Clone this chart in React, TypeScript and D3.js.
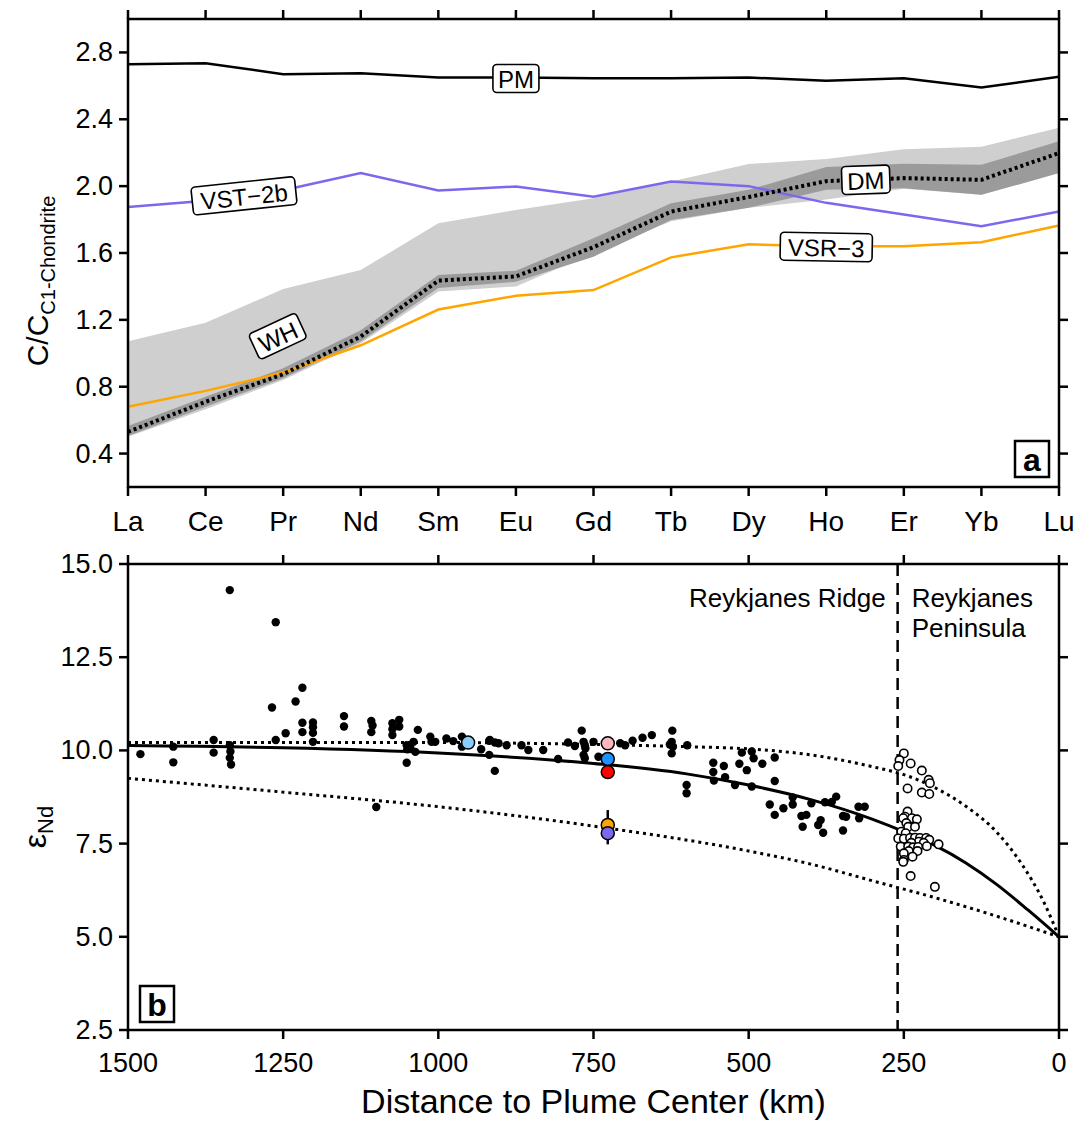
import React from "react";
import * as d3 from "d3";

// ---- panel a: REE patterns ----
const elements = ["La", "Ce", "Pr", "Nd", "Sm", "Eu", "Gd", "Tb", "Dy", "Ho", "Er", "Yb", "Lu"];
const pm = [2.73, 2.735, 2.67, 2.675, 2.65, 2.65, 2.645, 2.645, 2.65, 2.63, 2.645, 2.59, 2.655];
const vst2b = [1.875, 1.912, 1.976, 2.078, 1.974, 1.998, 1.936, 2.028, 2.0, 1.9, 1.83, 1.76, 1.848];
const vsr3 = [0.68, 0.775, 0.885, 1.048, 1.262, 1.344, 1.378, 1.574, 1.652, 1.64, 1.64, 1.664, 1.765];
const dm = [0.53, 0.71, 0.875, 1.1, 1.435, 1.46, 1.635, 1.848, 1.935, 2.03, 2.048, 2.038, 2.198];
const dmLo = [0.505, 0.68, 0.85, 1.07, 1.39, 1.428, 1.578, 1.798, 1.87, 1.978, 1.988, 1.948, 2.078];
const dmHi = [0.565, 0.74, 0.91, 1.138, 1.468, 1.494, 1.688, 1.898, 1.978, 2.114, 2.134, 2.128, 2.268];
const whLo = [0.5, 0.665, 0.84, 1.06, 1.37, 1.4, 1.6, 1.79, 1.87, 1.92, 1.985, 1.948, 2.078];
const whHi = [1.072, 1.182, 1.385, 1.498, 1.778, 1.858, 1.928, 2.028, 2.132, 2.162, 2.22, 2.236, 2.35];
const topYTicks = [0.4, 0.8, 1.2, 1.6, 2.0, 2.4, 2.8];

// label boxes: position in element index units + value
const reeLabels = [
  { text: "PM", i: 5, v: 2.644, angle: 0, w: 46 },
  { text: "VST\u22122b", i: 1.495, v: 1.942, angle: -6, w: 104 },
  { text: "WH", i: 1.93, v: 1.102, angle: -25, w: 52 },
  { text: "DM", i: 9.51, v: 2.038, angle: -2, w: 48 },
  { text: "VSR\u22123", i: 9.0, v: 1.636, angle: 1, w: 92 },
];

// ---- panel b: eNd vs distance ----
// [distance km, eNd]
const ridge = [
  [1480, 9.9], [1427, 10.1], [1427, 9.68], [1362, 10.28], [1362, 9.94], [1336, 14.3], [1336, 10.14],
  [1335, 9.97], [1336, 9.8], [1334, 9.62], [1262, 13.44], [1268, 11.15], [1262, 10.28], [1246, 10.46],
  [1230, 11.31], [1219, 11.68], [1219, 10.74], [1219, 10.49], [1202, 10.75], [1202, 10.62], [1202, 10.47],
  [1202, 10.23], [1152, 10.92], [1152, 10.64], [1108, 10.79], [1106, 10.67], [1108, 10.49], [1100, 8.48],
  [1074, 10.73], [1074, 10.57], [1074, 10.41], [1063, 10.82], [1063, 10.64], [1051, 10.14], [1050, 10.03],
  [1051, 9.67], [1045, 10.06], [1040, 10.23], [1037, 9.96], [1033, 10.55], [1013, 10.37], [1011, 10.23],
  [1005, 10.23], [987, 10.32], [976, 10.25], [962, 10.37], [962, 10.1], [931, 10.03], [918, 10.26],
  [909, 10.21], [918, 9.88], [909, 9.45], [917, 10.28], [903, 10.19], [890, 10.14], [866, 10.14],
  [855, 10.01], [831, 10.01], [807, 9.77], [791, 10.21], [780, 10.12], [769, 10.53], [766, 10.23],
  [764, 10.14], [763, 10.06], [766, 9.88], [764, 9.79], [750, 10.23], [742, 9.83], [707, 10.19],
  [699, 10.14], [687, 10.26], [671, 10.34], [656, 10.41], [623, 10.53], [627, 10.16], [624, 10.23],
  [622, 10.1], [624, 9.92], [599, 10.14], [600, 9.07], [600, 8.85], [557, 9.67], [557, 9.42],
  [556, 9.19], [540, 9.58], [538, 9.28], [522, 9.07], [515, 9.64], [511, 9.94], [495, 9.97],
  [492, 9.79], [503, 9.47], [495, 9.03], [478, 9.64], [458, 9.81], [458, 9.18], [466, 8.55],
  [458, 8.27], [444, 8.45], [429, 8.74], [429, 8.55], [415, 8.24], [407, 8.27], [413, 7.95],
  [399, 8.58], [388, 8.0], [384, 8.13], [380, 7.79], [377, 8.61], [366, 8.62], [359, 8.76],
  [348, 8.24], [343, 8.22], [348, 7.85], [323, 8.49], [313, 8.49], [322, 8.18],
];
const peninsula = [
  [250, 9.92], [257, 9.74], [259, 9.58], [239, 9.65], [221, 9.46], [210, 9.21], [208, 9.12],
  [244, 8.98], [221, 8.87], [209, 8.83], [244, 8.36], [248, 8.22], [251, 8.18], [237, 8.18],
  [229, 8.15], [246, 8.05], [243, 7.95], [232, 7.95], [254, 7.82], [247, 7.78], [259, 7.64],
  [250, 7.63], [240, 7.65], [232, 7.66], [224, 7.65], [214, 7.65], [209, 7.6], [226, 7.55],
  [218, 7.52], [238, 7.52], [194, 7.48], [255, 7.42], [243, 7.42], [235, 7.4], [227, 7.41],
  [213, 7.43], [228, 7.3], [242, 7.3], [250, 7.24], [236, 7.15], [250, 7.06], [251, 7.01],
  [239, 6.63], [200, 6.34],
];
const special = [
  { d: 952, e: 10.21, err: 0, color: "#87cefa" },
  { d: 727, e: 10.19, err: 0, color: "#ffb6c1" },
  { d: 727, e: 9.77, err: 0, color: "#1e90ff" },
  { d: 727, e: 9.42, err: 0, color: "#ff0000" },
  { d: 727, e: 8.0, err: 0.4, color: "#ffa500" },
  { d: 727, e: 7.78, err: 0.3, color: "#7b68ee" },
];
const mixMid = [
  [1500, 10.13], [1250, 10.07], [1000, 9.93], [750, 9.65], [600, 9.37], [500, 9.07], [400, 8.68],
  [300, 8.15], [250, 7.82], [200, 7.45], [150, 6.98], [100, 6.4], [50, 5.72], [0, 5.0],
];
const mixHi = [
  [1500, 10.21], [1000, 10.21], [750, 10.16], [600, 10.1], [500, 10.04], [400, 9.88], [300, 9.56],
  [250, 9.35], [200, 9.0], [150, 8.5], [100, 7.8], [60, 6.95], [25, 5.95], [0, 5.0],
];
const mixLo = [
  [1500, 9.25], [1250, 8.88], [1000, 8.49], [750, 7.97], [500, 7.3], [400, 6.95], [300, 6.5],
  [200, 6.05], [100, 5.55], [0, 5.0],
];
const boundaryKm = 260;
const distTicks = [1500, 1250, 1000, 750, 500, 250, 0];
const endTicks = [2.5, 5.0, 7.5, 10.0, 12.5, 15.0];

const FONT = "'Liberation Sans', Arial, Helvetica, sans-serif";
const AX = 2.5;
const TL = 9;

const L = 128, R = 1059;
const aTop = 19, aBot = 487;
const bTop = 564, bBot = 1030;

export default function App() {
  const x = d3.scalePoint<string>().domain(elements).range([L, R]);
  const xi = (i: number) => (x(elements[0]) as number) + i * x.step();
  const y = d3.scaleLinear().domain([0.2, 3.0]).range([aBot, aTop]);

  const line = d3.line<number>().x((_, i) => xi(i)).y((v) => y(v));
  const band = (lo: number[], hi: number[]) =>
    d3.area<number>().x((_, i) => xi(i)).y0((_, i) => y(lo[i])).y1((v) => y(v))(hi) as string;

  const xb = d3.scaleLinear().domain([1500, 0]).range([L, R]);
  const yb = d3.scaleLinear().domain([2.5, 15]).range([bBot, bTop]);
  const curve = d3
    .line<number[]>()
    .x((p) => xb(p[0]))
    .y((p) => yb(p[1]))
    .curve(d3.curveMonotoneX);

  return (
    <svg
      width={1089}
      height={1121}
      style={{ position: "absolute", left: 0, top: 0, background: "#fff" }}
      fontFamily={FONT}
    >
      {/* ===== panel a ===== */}
      <path d={band(whLo, whHi)} fill="#cfcfcf" />
      <path d={band(dmLo, dmHi)} fill="#9b9b9b" />
      <path d={line(pm) as string} fill="none" stroke="#000" strokeWidth={2.5} />
      <path d={line(vst2b) as string} fill="none" stroke="#7b68ee" strokeWidth={2.5} />
      <path d={line(vsr3) as string} fill="none" stroke="#ffa500" strokeWidth={2.5} />
      <path d={line(dm) as string} fill="none" stroke="#000" strokeWidth={4} strokeDasharray="3 3" />

      {reeLabels.map((lb) => (
        <g key={lb.text} transform={`translate(${xi(lb.i)},${y(lb.v)}) rotate(${lb.angle})`}>
          <rect x={-lb.w / 2} y={-14} width={lb.w} height={28} rx={4} fill="#fff" stroke="#000" strokeWidth={1.6} />
          <text textAnchor="middle" dominantBaseline="central" y={1} fontSize={24}>
            {lb.text}
          </text>
        </g>
      ))}

      <rect x={L} y={aTop} width={R - L} height={aBot - aTop} fill="none" stroke="#000" strokeWidth={AX} />
      {topYTicks.map((t) => (
        <g key={t}>
          <line x1={L - TL} x2={L} y1={y(t)} y2={y(t)} stroke="#000" strokeWidth={AX} />
          <line x1={R} x2={R + TL} y1={y(t)} y2={y(t)} stroke="#000" strokeWidth={AX} />
          <text x={L - 15} y={y(t)} textAnchor="end" dominantBaseline="central" fontSize={27}>
            {t.toFixed(1)}
          </text>
        </g>
      ))}
      {elements.map((el) => (
        <g key={el}>
          <line x1={x(el)} x2={x(el)} y1={aTop - TL} y2={aTop} stroke="#000" strokeWidth={AX} />
          <line x1={x(el)} x2={x(el)} y1={aBot} y2={aBot + TL} stroke="#000" strokeWidth={AX} />
          <text x={x(el)} y={aBot + 34} textAnchor="middle" dominantBaseline="central" fontSize={28}>
            {el}
          </text>
        </g>
      ))}
      <text transform={`translate(48,${(aTop + aBot) / 2 + 28}) rotate(-90)`} textAnchor="middle" fontSize={30}>
        C/C<tspan fontSize={20} dy={7}>C1-Chondrite</tspan>
      </text>
      <rect x={1015} y={441} width={34} height={36} fill="#fff" stroke="#000" strokeWidth={2.5} />
      <text x={1032} y={460} textAnchor="middle" dominantBaseline="central" fontSize={32} fontWeight="bold">
        a
      </text>

      {/* ===== panel b ===== */}
      <line
        x1={xb(boundaryKm)}
        x2={xb(boundaryKm)}
        y1={bTop}
        y2={bBot}
        stroke="#000"
        strokeWidth={2.5}
        strokeDasharray="12 7"
      />
      <path d={curve(mixHi) as string} fill="none" stroke="#000" strokeWidth={3} strokeDasharray="3 4" />
      <path d={curve(mixLo) as string} fill="none" stroke="#000" strokeWidth={3} strokeDasharray="3 4" />
      <path d={curve(mixMid) as string} fill="none" stroke="#000" strokeWidth={3} />

      {ridge.map((p, i) => (
        <circle key={"r" + i} cx={xb(p[0])} cy={yb(p[1])} r={4.2} fill="#000" />
      ))}
      {peninsula.map((p, i) => (
        <circle key={"p" + i} cx={xb(p[0])} cy={yb(p[1])} r={4.2} fill="#fff" stroke="#000" strokeWidth={1.6} />
      ))}
      {special
        .filter((s) => s.err > 0)
        .map((s, i) => (
          <line
            key={"e" + i}
            x1={xb(s.d)}
            x2={xb(s.d)}
            y1={yb(s.e - s.err)}
            y2={yb(s.e + s.err)}
            stroke="#000"
            strokeWidth={2.5}
          />
        ))}
      {special.map((s, i) => (
        <circle key={"s" + i} cx={xb(s.d)} cy={yb(s.e)} r={6.5} fill={s.color} stroke="#000" strokeWidth={1.5} />
      ))}

      <text x={xb(boundaryKm) - 12} y={598} textAnchor="end" dominantBaseline="central" fontSize={26}>
        Reykjanes Ridge
      </text>
      <text x={xb(boundaryKm) + 14} y={598} dominantBaseline="central" fontSize={26}>
        Reykjanes
      </text>
      <text x={xb(boundaryKm) + 14} y={628} dominantBaseline="central" fontSize={26}>
        Peninsula
      </text>

      <rect x={L} y={bTop} width={R - L} height={bBot - bTop} fill="none" stroke="#000" strokeWidth={AX} />
      {endTicks.map((t) => (
        <g key={t}>
          <line x1={L - TL} x2={L} y1={yb(t)} y2={yb(t)} stroke="#000" strokeWidth={AX} />
          <line x1={R} x2={R + TL} y1={yb(t)} y2={yb(t)} stroke="#000" strokeWidth={AX} />
          <text x={L - 15} y={yb(t)} textAnchor="end" dominantBaseline="central" fontSize={27}>
            {t.toFixed(1)}
          </text>
        </g>
      ))}
      {distTicks.map((t) => (
        <g key={t}>
          <line x1={xb(t)} x2={xb(t)} y1={bTop - TL} y2={bTop} stroke="#000" strokeWidth={AX} />
          <line x1={xb(t)} x2={xb(t)} y1={bBot} y2={bBot + TL} stroke="#000" strokeWidth={AX} />
          <text x={xb(t)} y={bBot + 33} textAnchor="middle" dominantBaseline="central" fontSize={27}>
            {t}
          </text>
        </g>
      ))}
      <text x={(L + R) / 2} y={1113} textAnchor="middle" fontSize={34}>
        Distance to Plume Center (km)
      </text>
      <text transform={`translate(46,${(bTop + bBot) / 2 + 30}) rotate(-90)`} textAnchor="middle" fontSize={32}>
        ε<tspan fontSize={22} dy={7}>Nd</tspan>
      </text>
      <rect x={140} y={986} width={34} height={36} fill="#fff" stroke="#000" strokeWidth={2.5} />
      <text x={157} y={1005} textAnchor="middle" dominantBaseline="central" fontSize={32} fontWeight="bold">
        b
      </text>
    </svg>
  );
}
